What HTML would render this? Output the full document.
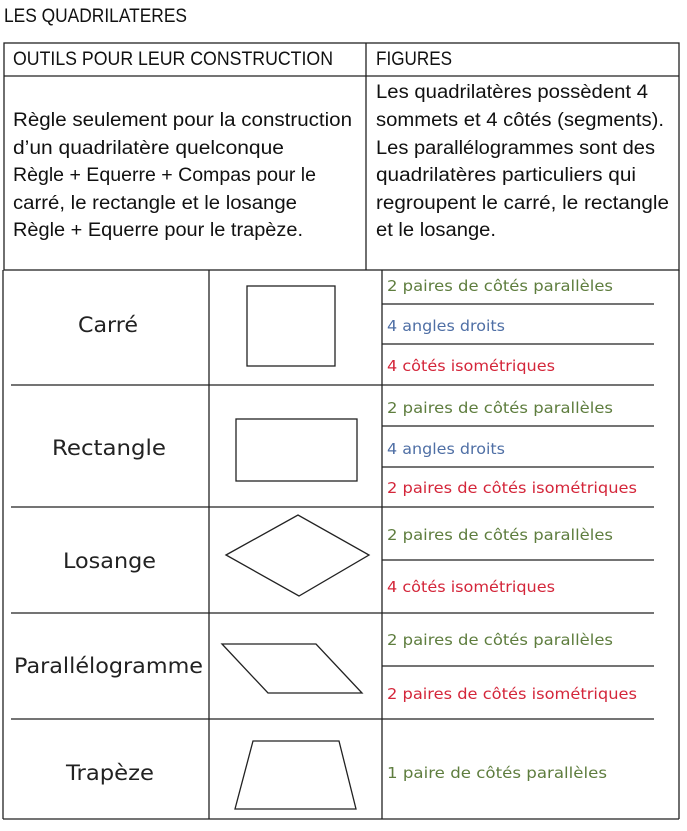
<!DOCTYPE html>
<html><head><meta charset="utf-8"><style>
html,body{margin:0;padding:0;background:#fff;}
svg{display:block;}
.c{font-family:"Liberation Sans",sans-serif;font-size:19px;fill:#111;}
.l{font-family:"DejaVu Sans","Liberation Sans",sans-serif;font-size:21px;fill:#222;}
.p{font-family:"DejaVu Sans","Liberation Sans",sans-serif;font-size:15px;}
.g{fill:#5e7d3e}.b{fill:#4f6fa5}.r{fill:#d4263a}
</style></head><body>
<svg width="687" height="831" viewBox="0 0 687 831" xmlns="http://www.w3.org/2000/svg">
<rect width="687" height="831" fill="#fff"/>
<text class="c" x="4" y="22" textLength="183" lengthAdjust="spacingAndGlyphs">LES QUADRILATERES</text>
<g stroke="#222" stroke-width="1.3" fill="none">
<rect x="4" y="43" width="675" height="227"/>
<line x1="4" y1="76" x2="679" y2="76"/>
<line x1="366" y1="43" x2="366" y2="270"/>
<line x1="3" y1="270" x2="3" y2="819"/>
<line x1="679" y1="270" x2="679" y2="819"/>
<line x1="3" y1="819" x2="679" y2="819"/>
<line x1="209" y1="270" x2="209" y2="819"/>
<line x1="382" y1="270" x2="382" y2="819"/>
<line x1="11" y1="385" x2="654" y2="385"/>
<line x1="11" y1="507" x2="654" y2="507"/>
<line x1="11" y1="613" x2="654" y2="613"/>
<line x1="11" y1="719" x2="654" y2="719"/>
<line x1="382" y1="304" x2="654" y2="304"/>
<line x1="382" y1="344" x2="654" y2="344"/>
<line x1="382" y1="426" x2="654" y2="426"/>
<line x1="382" y1="467" x2="654" y2="467"/>
<line x1="382" y1="560" x2="654" y2="560"/>
<line x1="382" y1="666" x2="654" y2="666"/>
<rect x="247" y="286" width="88" height="80"/>
<rect x="236" y="419" width="121" height="62"/>
<polygon points="226,555 298,515 369,555 299,596"/>
<polygon points="222,644 316,644 362,693 268,693"/>
<polygon points="253,741 339,741 356,809 235,809"/>
</g>
<text class="c" x="13" y="65" textLength="320" lengthAdjust="spacingAndGlyphs">OUTILS POUR LEUR CONSTRUCTION</text>
<text class="c" x="376" y="65" textLength="76" lengthAdjust="spacingAndGlyphs">FIGURES</text>
<text class="c" x="13" y="126" textLength="339" lengthAdjust="spacingAndGlyphs">Règle seulement pour la construction</text>
<text class="c" x="13" y="154" textLength="271" lengthAdjust="spacingAndGlyphs">d’un quadrilatère quelconque</text>
<text class="c" x="13" y="181" textLength="303" lengthAdjust="spacingAndGlyphs">Règle + Equerre + Compas pour le</text>
<text class="c" x="13" y="209" textLength="284" lengthAdjust="spacingAndGlyphs">carré, le rectangle et le losange</text>
<text class="c" x="13" y="236" textLength="290" lengthAdjust="spacingAndGlyphs">Règle + Equerre pour le trapèze.</text>
<text class="c" x="376" y="98" textLength="272" lengthAdjust="spacingAndGlyphs">Les quadrilatères  possèdent 4</text>
<text class="c" x="376" y="126" textLength="288" lengthAdjust="spacingAndGlyphs">sommets et 4 côtés (segments).</text>
<text class="c" x="376" y="154" textLength="279" lengthAdjust="spacingAndGlyphs">Les parallélogrammes sont des</text>
<text class="c" x="376" y="181" textLength="260" lengthAdjust="spacingAndGlyphs">quadrilatères particuliers qui</text>
<text class="c" x="376" y="209" textLength="293" lengthAdjust="spacingAndGlyphs">regroupent le carré, le rectangle</text>
<text class="c" x="376" y="236" textLength="120" lengthAdjust="spacingAndGlyphs">et le losange.</text>
<text class="l" x="78" y="332" textLength="60" lengthAdjust="spacingAndGlyphs">Carré</text>
<text class="l" x="52" y="455" textLength="114" lengthAdjust="spacingAndGlyphs">Rectangle</text>
<text class="l" x="63" y="568" textLength="93" lengthAdjust="spacingAndGlyphs">Losange</text>
<text class="l" x="14" y="673" textLength="189" lengthAdjust="spacingAndGlyphs">Parallélogramme</text>
<text class="l" x="66" y="780" textLength="88" lengthAdjust="spacingAndGlyphs">Trapèze</text>
<text class="p g" x="387" y="291" textLength="226" lengthAdjust="spacingAndGlyphs">2 paires de côtés parallèles</text>
<text class="p b" x="387" y="331" textLength="118" lengthAdjust="spacingAndGlyphs">4 angles droits</text>
<text class="p r" x="387" y="371" textLength="168" lengthAdjust="spacingAndGlyphs">4 côtés isométriques</text>
<text class="p g" x="387" y="413" textLength="226" lengthAdjust="spacingAndGlyphs">2 paires de côtés parallèles</text>
<text class="p b" x="387" y="454" textLength="118" lengthAdjust="spacingAndGlyphs">4 angles droits</text>
<text class="p r" x="387" y="493" textLength="250" lengthAdjust="spacingAndGlyphs">2 paires de côtés isométriques</text>
<text class="p g" x="387" y="540" textLength="226" lengthAdjust="spacingAndGlyphs">2 paires de côtés parallèles</text>
<text class="p r" x="387" y="592" textLength="168" lengthAdjust="spacingAndGlyphs">4 côtés isométriques</text>
<text class="p g" x="387" y="645" textLength="226" lengthAdjust="spacingAndGlyphs">2 paires de côtés parallèles</text>
<text class="p r" x="387" y="699" textLength="250" lengthAdjust="spacingAndGlyphs">2 paires de côtés isométriques</text>
<text class="p g" x="387" y="778" textLength="220" lengthAdjust="spacingAndGlyphs">1 paire de côtés parallèles</text>
</svg>
</body></html>
